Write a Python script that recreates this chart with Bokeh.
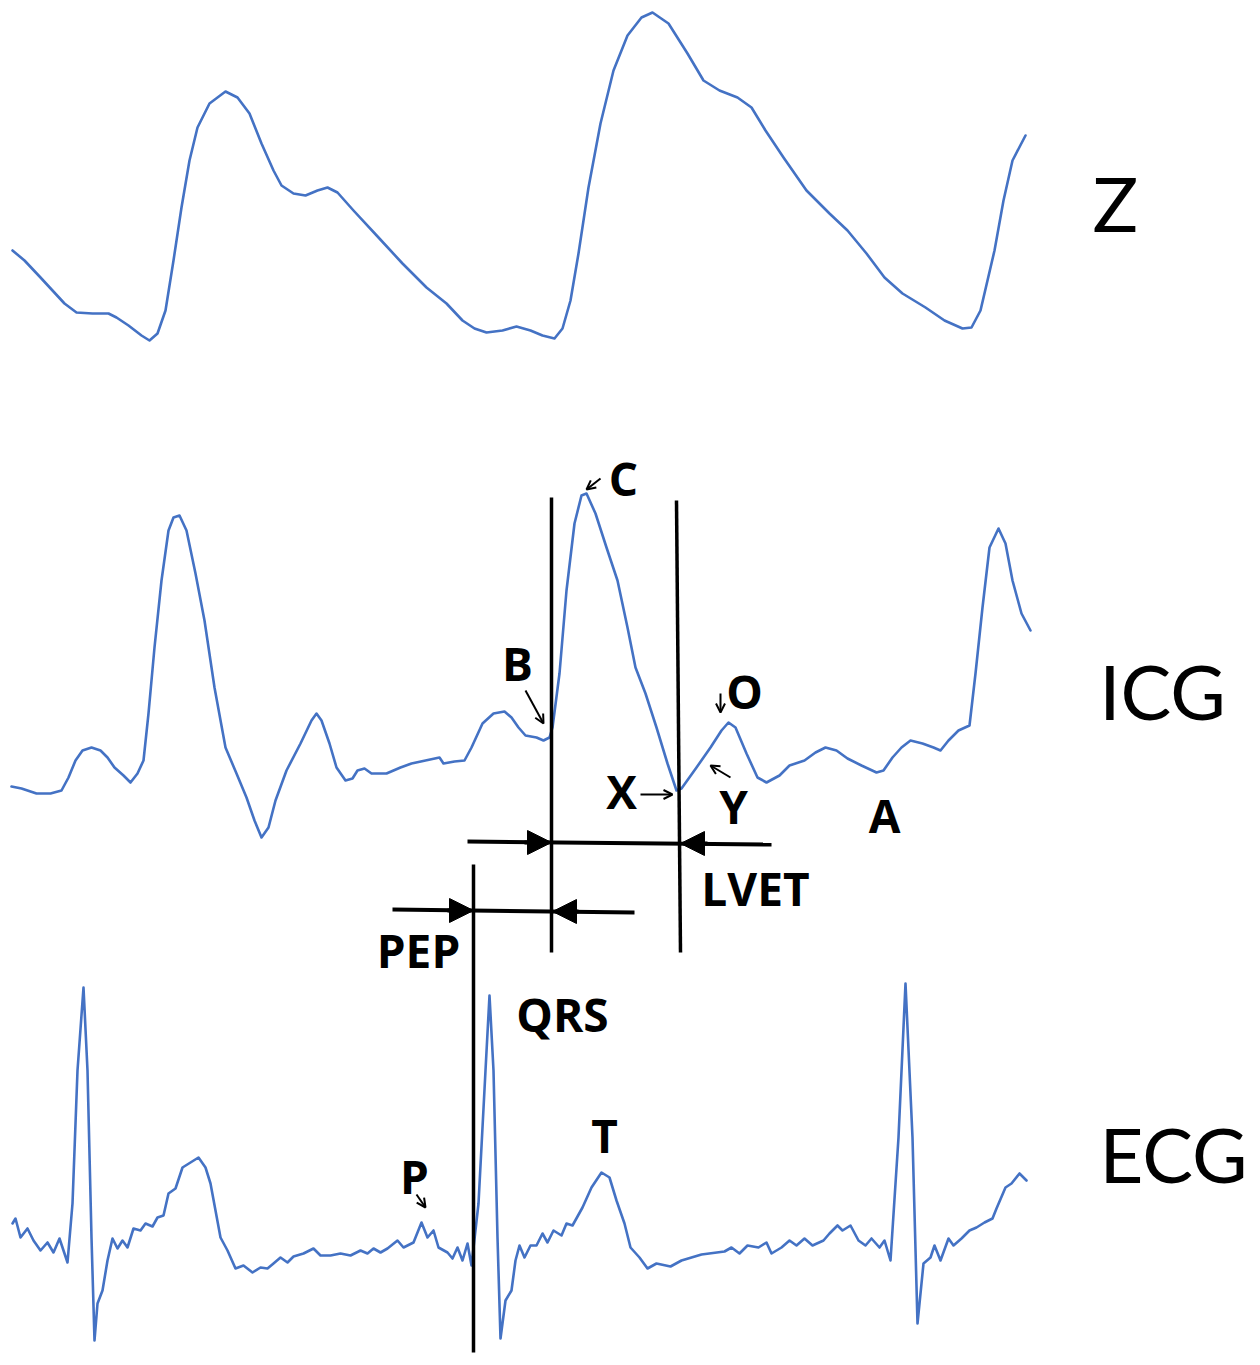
from bokeh.plotting import figure
from bokeh.models import Range1d, Arrow, OpenHead, NormalHead, ColumnDataSource
from bokeh.core.properties import value
from bokeh.embed import file_html
from bokeh.resources import INLINE

# ---------------- data (screen-like coordinates: x = time, y = inverted amplitude) -------------
z_points = [(12,250),(24,260),(40,277),(52,290),(64,303),(76,312),(92,313),(108,313),(116,317),(128,325),
            (141,335),(149,340),(157,333),(165,310),(173,260),(181,207),(189,160),(197,127),(209,103),(225,91),
            (237,97),(249,113),(261,143),(273,170),(281,185),(293,193),(305,195),(317,190),(327,187),(337,192),
            (353,210),(378,237),(402,263),(426,287),(446,303),(462,320),(474,328),(486,332),(502,330),(516,326),
            (530,330),(542,335),(554,338),(562,328),(570,300),(578,253),(588,187),(600,123),(613,70),(627,35),
            (641,17),(652,12),(668,23),(687,53),(703,80),(719,90),(737,97),(751,107),(765,130),(783,157),
            (806,190),(829,213),(847,230),(866,253),(884,277),(902,293),(925,307),(944,320),(962,328),(971,327),
            (980,310),(994,250),(1003,200),(1012,160),(1025,135)]

icg_points = [(11,786),(21,788),(36,793),(50,793),(61,790),(68,777),(75,760),(82,750),(91,747),(100,750),
              (107,757),(114,767),(123,775),(130,782),(137,773),(143,760),(148,713),(154,647),(161,580),(168,530),
              (173,517),(179,515),(186,530),(195,573),(204,620),(214,687),(225,747),(236,773),(246,797),(254,820),
              (261,837),(268,827),(275,800),(286,770),(300,743),(311,720),(316,713),(321,720),(329,743),(336,767),
              (345,780),(352,778),(357,770),(364,768),(371,773),(386,773),(400,767),(411,763),(425,760),(439,757),
              (443,763),(454,761),(464,760),(471,747),(482,723),(493,713),(504,711),(511,717),(518,727),(525,735),
              (536,737),(543,740),(549,737),(552,727),(559,673),(566,590),(574,523),(581,495),(586,493),(595,513),
              (606,547),(617,580),(627,627),(635,667),(645,693),(656,727),(667,763),(676,790),(681,788),(696,767),
              (710,747),(721,730),(728,722),(735,727),(746,753),(757,777),(766,782),(779,775),(789,765),(804,760),
              (815,752),(825,747),(836,750),(847,758),(861,765),(876,772),(883,770),(892,757),(901,747),(910,740),
              (922,743),(933,747),(940,750),(948,740),(958,730),(969,725),(975,673),(982,607),(989,547),(998,528),
              (1005,543),(1012,580),(1021,613),(1030,630)]

ecg_points = [(12,1223),(15,1218),(20,1237),(27,1228),(33,1240),(40,1250),(47,1242),(53,1252),(59,1238),(67,1262),
              (72,1203),(77,1070),(83,987),(87,1070),(91,1237),(94,1340),(97,1303),(102,1290),(107,1260),(112,1238),
              (117,1248),(122,1240),(127,1247),(133,1228),(140,1230),(145,1223),(152,1226),(157,1217),(163,1215),(168,1193),
              (175,1188),(182,1167),(190,1162),(198,1157),(205,1167),(210,1183),(215,1210),(220,1237),(227,1250),(235,1268),
              (243,1265),(252,1272),(260,1267),(267,1268),(273,1263),(280,1257),(287,1262),(293,1256),(303,1253),(313,1248),
              (320,1255),(330,1255),(340,1253),(350,1255),(360,1250),(367,1253),(373,1248),(380,1252),(387,1248),(397,1240),
              (403,1247),(413,1242),(421,1222),(427,1237),(433,1230),(438,1247),(447,1252),(452,1258),(457,1247),(462,1260),
              (467,1243),(471,1265),(478,1203),(485,1070),(489,995),(493,1070),(497,1237),(500,1338),(505,1300),(511,1290),
              (515,1260),(519,1245),(524,1257),(530,1245),(536,1245),(542,1233),(547,1242),(553,1230),(561,1235),(566,1223),
              (572,1225),(582,1207),(591,1187),(601,1172),(609,1177),(616,1200),(624,1223),(630,1247),(639,1257),(647,1268),
              (656,1263),(670,1266),(681,1260),(701,1254),(724,1251),(731,1247),(739,1253),(747,1245),(758,1247),(766,1242),
              (771,1253),(781,1247),(789,1240),(796,1245),(804,1238),(812,1245),(823,1240),(829,1233),(837,1225),(842,1230),
              (850,1225),(858,1240),(865,1245),(871,1238),(879,1247),(884,1240),(890,1260),(898,1137),(905,983),(912,1137),
              (917,1323),(923,1263),(930,1257),(934,1245),(940,1260),(948,1238),(953,1245),(961,1238),(969,1230),(976,1227),
              (984,1222),(992,1218),(996,1208),(1005,1187),(1011,1183),(1019,1173),(1026,1180)]

# vertical marker lines (x0, y0, x1, y1)
marker_lines = [(551,497,551,952), (676,500,680,952), (473,864,473,1352)]
# interval lines (x0, y0, x1, y1)
interval_lines = [(467,841,771,844), (392,909,634,912)]
# big filled arrowheads (x_from, y_from, x_tip, y_tip)
interval_heads = [(524,842,551,842), (707,843,680,843), (447,910,473,910), (578,911,552,911)]
# small pointer arrows (x_from, y_from, x_to, y_to)
pointer_arrows = [(600,478,586,489), (525,690,543,723), (720,693,720,712),
                  (640,794,672,794), (730,777,710,765), (416,1194,425,1207)]

# bold point labels: (text, x_center, text anchor y)
point_labels = [("C",623,477), ("B",517,662), ("O",744,690), ("X",621,790), ("Y",733,805),
                ("A",884,814), ("LVET",755,887), ("PEP",418,949), ("QRS",562,1013),
                ("T",604,1134), ("P",414,1175)]
# signal names
signal_labels = [("Z",1115,202), ("ICG",1162,690), ("ECG",1173,1153)]

BLUE = "#4472C4"

W, H = 1258, 1362
p = figure(width=W, height=H, x_range=Range1d(0, W), y_range=Range1d(H, 0),
           output_backend="svg", toolbar_location=None, min_border=0)
p.axis.visible = False
p.grid.visible = False
p.outline_line_color = None
p.background_fill_color = "white"
p.border_fill_color = "white"

for pts in (z_points, icg_points, ecg_points):
    xs = [a for a, b in pts]
    ys = [b for a, b in pts]
    p.line(xs, ys, line_color=BLUE, line_width=2.6, line_join="round", line_cap="round")

p.segment(x0=[m[0] for m in marker_lines], y0=[m[1] for m in marker_lines],
          x1=[m[2] for m in marker_lines], y1=[m[3] for m in marker_lines],
          line_color="black", line_width=3.5)
p.segment(x0=[m[0] for m in interval_lines], y0=[m[1] for m in interval_lines],
          x1=[m[2] for m in interval_lines], y1=[m[3] for m in interval_lines],
          line_color="black", line_width=4)

for (xa, ya, xb, yb) in interval_heads:
    p.add_layout(Arrow(x_start=xa, y_start=ya, x_end=xb, y_end=yb, line_width=4, line_color="black",
                       end=NormalHead(size=24, fill_color="black", line_color="black", line_width=1)))

for (xa, ya, xb, yb) in pointer_arrows:
    p.add_layout(Arrow(x_start=xa, y_start=ya, x_end=xb, y_end=yb, line_width=2, line_color="black",
                       end=OpenHead(size=9, line_width=2, line_color="black")))

src_pl = ColumnDataSource(dict(t=[l[0] for l in point_labels], x=[l[1] for l in point_labels],
                               y=[l[2] for l in point_labels]))
p.text(x="x", y="y", text="t", source=src_pl, text_font=value("Open Sans"), text_font_style="bold",
       text_font_size="46px", text_align="center", text_baseline="alphabetic", text_color="black")

src_sl = ColumnDataSource(dict(t=[l[0] for l in signal_labels], x=[l[1] for l in signal_labels],
                               y=[l[2] for l in signal_labels]))
p.text(x="x", y="y", text="t", source=src_sl, text_font=value("Lato"),
       text_font_size="76px", text_align="center", text_baseline="alphabetic", text_color="black")

open("out.html", "w").write(file_html(p, INLINE))
